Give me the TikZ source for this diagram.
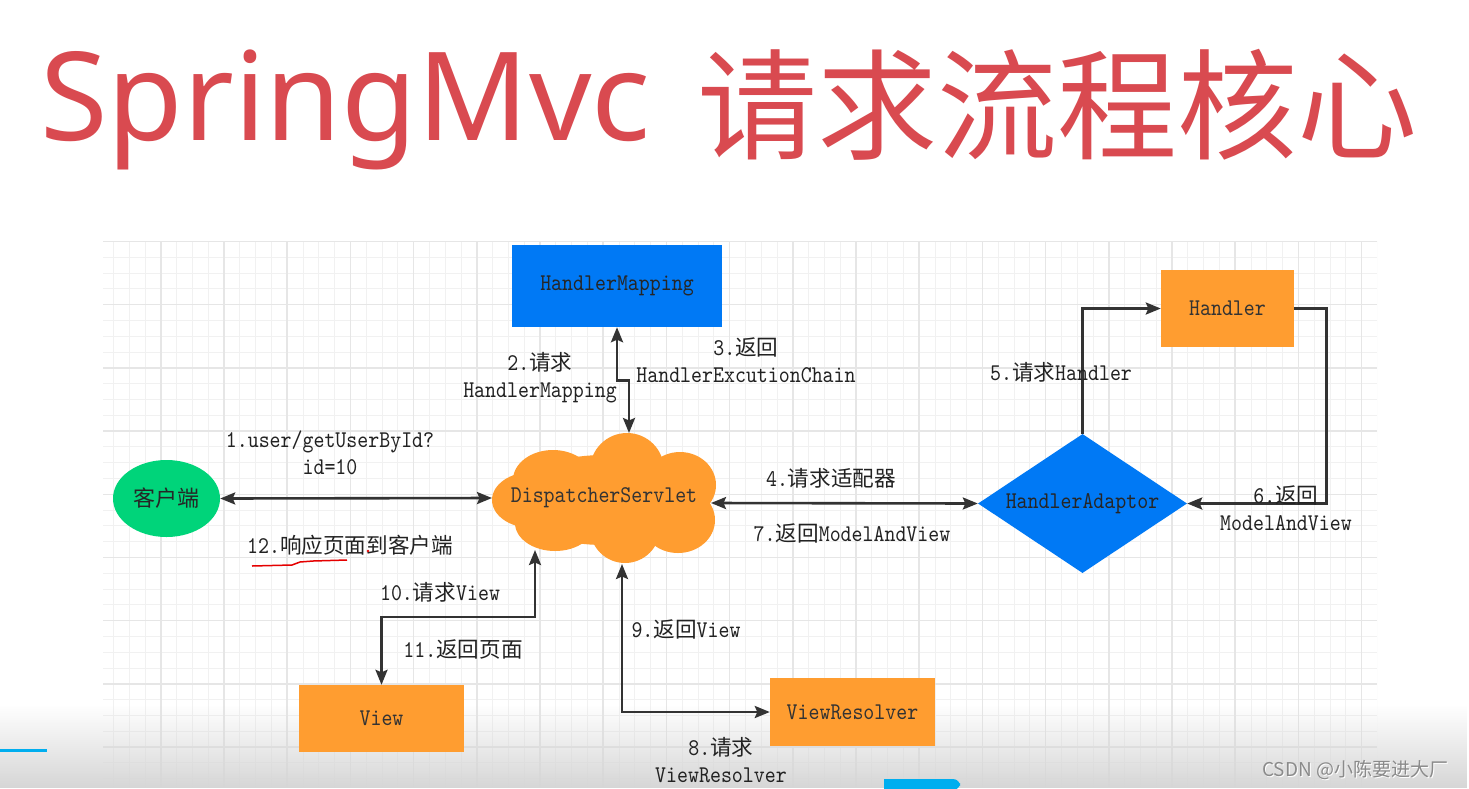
\documentclass[tikz,border=0pt]{standalone}
\usepackage{fontspec}
\setmonofont{lmmono10-regular.otf}[FakeStretch=0.87]
\newfontfamily\cjk{Noto Sans CJK SC}[Scale=0.9]
\newfontfamily\cjkbig{Noto Sans CJK SC}
\newfontfamily\notosans{Noto Sans}
\usetikzlibrary{shapes.geometric,arrows.meta,fadings}
\definecolor{gridminor}{HTML}{F1F1F1}
\definecolor{gridmajor}{HTML}{E6E6E6}
\definecolor{orng}{HTML}{FF9D30}
\definecolor{blu}{HTML}{0079F5}
\definecolor{grn}{HTML}{00D47A}
\definecolor{titlered}{HTML}{D94A50}
\definecolor{lin}{HTML}{333333}
\definecolor{txt}{HTML}{222222}
\definecolor{cyanbar}{HTML}{00AEEF}
\definecolor{wm}{HTML}{8A8A8A}
\newcommand\zh[1]{{\cjk #1}}
\begin{document}
\begin{tikzpicture}[x=1pt,y=-1pt,
  mono/.style={font=\fontsize{24}{27}\selectfont\ttfamily},
  lbl/.style={mono,text=txt,align=center,inner sep=0pt},
  obox/.style={rectangle,fill=orng,mono,text=black!80,inner sep=0pt},
  bbox/.style={rectangle,fill=blu,mono,text=black!85,inner sep=0pt},
  conn/.style={draw=lin,line width=2.6pt},
  onearrow/.style={conn,-{Stealth[length=15pt,width=12pt,inset=2.5pt]}},
  biarrow/.style={conn,{Stealth[length=15pt,width=12pt,inset=2.5pt]}-{Stealth[length=15pt,width=12pt,inset=2.5pt]}}
]
\useasboundingbox (0,0) rectangle (1469,788);
\fill[white] (0,0) rectangle (1469,788);
% grid
\begin{scope}
\clip (103,241) rectangle (1377,788);
\foreach \i in {-8,...,73} \draw[gridminor,line width=1pt] ({224+15.8*\i},241) -- ({224+15.8*\i},788);
\foreach \j in {0,...,35} \draw[gridminor,line width=1pt] (103,{241.5+15.8*\j}) -- (1377,{241.5+15.8*\j});
\foreach \i in {-2,...,18} \draw[gridmajor,line width=1.5pt] ({224+63.2*\i},241) -- ({224+63.2*\i},788);
\foreach \j in {0,...,9} \draw[gridmajor,line width=1.5pt] (103,{241.5+63.2*\j}) -- (1377,{241.5+63.2*\j});
\end{scope}
% bottom fade of the video overlay
\fill[black!16,path fading=north] (0,705) rectangle (1469,788);
% title
\node[anchor=base west,inner sep=0pt,text=titlered,font=\notosans\fontsize{123}{130}\selectfont] (title1) at (40,140) {SpringMvc};
\node[anchor=base west,inner sep=0pt,text=titlered,font=\cjkbig\fontsize{120}{130}\selectfont] (title2) at (697,150) {请求流程核心};
% cloud
\fill[orng] (604,500) ellipse [x radius=95pt,y radius=45pt];
\fill[orng] (627,470) circle [radius=37pt];
\fill[orng] (553,480) ellipse [x radius=40pt,y radius=30pt];
\fill[orng] (680,485) ellipse [x radius=36pt,y radius=33pt];
\fill[orng] (532,500) ellipse [x radius=40pt,y radius=28pt];
\fill[orng] (555,523) ellipse [x radius=40pt,y radius=28pt];
\fill[orng] (625,528) circle [radius=35pt];
\fill[orng] (678,520) ellipse [x radius=37pt,y radius=33pt];
\node[lbl,text=black!80] (ds) at (604,498) {DispatcherServlet};
\coordinate (dsL) at (492,498);
\coordinate (dsR) at (711,503);
\coordinate (dsT) at (629,433);
\coordinate (dsB1) at (535,550);
\coordinate (dsB2) at (622,564);
% nodes
\node[ellipse,fill=grn,minimum width=107pt,minimum height=77pt,inner sep=0pt,font=\cjkbig\fontsize{22}{26}\selectfont,text=black!85] (client) at (166.5,498.5) {客户端};
\node[bbox,minimum width=210pt,minimum height=82pt] (hm) at (617,286) {HandlerMapping};
\node[diamond,fill=blu,aspect=1.5,minimum width=209pt,minimum height=139pt,inner sep=0pt,mono,text=black!85] (ha) at (1082.5,503.5) {HandlerAdaptor};
\node[obox,minimum width=133pt,minimum height=77pt] (handler) at (1227.5,308.5) {Handler};
\node[obox,minimum width=165pt,minimum height=67pt] (view) at (381.5,718.5) {View};
\node[obox,minimum width=165pt,minimum height=68pt] (vr) at (852.5,712) {ViewResolver};
% connectors
\draw[biarrow] (client.east) -- (dsL);
\draw[biarrow] (hm.south) -- ++(0,53) -| (dsT);
\draw[biarrow] (dsR) -- (ha.west);
\draw[onearrow] (ha.north) |- (handler.west);
\draw[onearrow] (handler.east) -- ++(32,0) |- (ha.east);
\draw[biarrow] (dsB1) -- ++(0,67) -| (view.north);
\draw[biarrow] (dsB2) |- (vr.west);
% labels
\node[lbl] (l1) at (330,453) {1.user/getUserById?\\id=10};
\node[lbl] (l2) at (540,377.5) {2.\zh{请求}\\HandlerMapping};
\node[lbl] (l3) at (746,360.5) {3.\zh{返回}\\HandlerExcutionChain};
\node[lbl] (l4) at (831,478) {4.\zh{请求适配器}};
\node[lbl] (l7) at (852,533) {7.\zh{返回}ModelAndView};
\node[lbl] (l5) at (1061,372) {5.\zh{请求}Handler};
\node[lbl] (l6) at (1286,508) {6.\zh{返回}\\ModelAndView};
\node[lbl] (l12) at (350,545) {12.\zh{响应页面到客户端}};
\node[lbl] (l10) at (440,592) {10.\zh{请求}View};
\node[lbl] (l11) at (463,649) {11.\zh{返回页面}};
\node[lbl] (l9) at (686,629) {9.\zh{返回}View};
\node[lbl] (l8) at (721,760) {8.\zh{请求}\\ViewResolver};
% red hand-drawn underline
\draw[red!90!black,line width=1.5pt,line join=round] (252,566) -- (292,565) -- (300,562) -- (313,561) -- (347,560);
\fill[red!90!black] (368,551) circle [radius=1.3pt];
% video overlay bits
\fill[cyanbar] (0,748.5) rectangle (47,751.5);
\fill[cyanbar] (884,790) -- (884,779) [rounded corners=7pt] -- (960,779) -- (960,790) [sharp corners] -- cycle;
\node[anchor=base west,inner sep=0pt,text=white,font=\cjkbig\fontsize{19}{22}\selectfont] (wm2) at (1263,777) {CSDN @小陈要进大厂};
\node[anchor=base west,inner sep=0pt,text=wm,font=\cjkbig\fontsize{19}{22}\selectfont] (wm1) at (1262,776) {CSDN @小陈要进大厂};
\end{tikzpicture}
\end{document}
